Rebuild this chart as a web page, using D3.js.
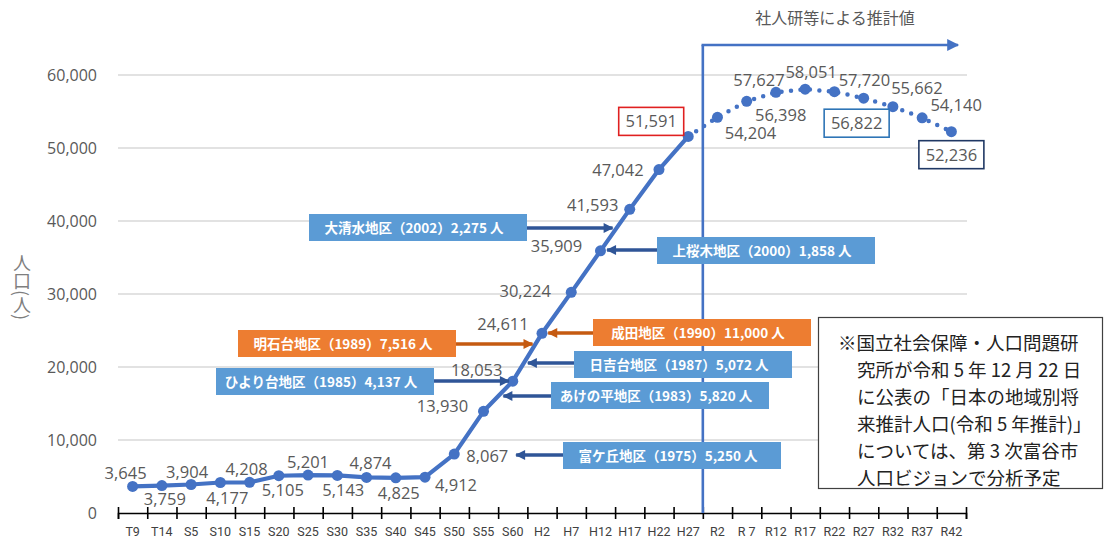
<!DOCTYPE html>
<html>
<head>
<meta charset="utf-8">
<script src="https://cdn.jsdelivr.net/npm/d3@7"></script>
<style>
  html, body { margin: 0; padding: 0; background: #fff; }
  svg { display: block; }
  .num { font-family: "Open Sans", "Noto Sans", sans-serif; }
  .jp { font-family: "Noto Sans CJK JP", "Noto Sans", sans-serif; }
</style>
</head>
<body>
<svg id="chart" width="1105" height="542"></svg>
<script>
// ---------- data ----------
const categories = ["T9","T14","S5","S10","S15","S20","S25","S30","S35","S40","S45","S50","S55","S60",
  "H2","H7","H12","H17","H22","H27","R2","R 7","R12","R17","R22","R27","R32","R37","R42"];
const actualValues = [3645,3759,3904,4177,4208,5105,5201,5143,4874,4825,4912,8067,13930,18053,
  24611,30224,35909,41593,47042,51591];
const projectedValues = [54204,56398,57627,58051,57720,56822,55662,54140,52236];
const yTicks = [0,10000,20000,30000,40000,50000,60000];
const yTitle = "人口(人)";
const projectionTitle = "社人研等による推計値";
const annotationTexts = [
  "大清水地区（2002）2,275 人",
  "上桜木地区（2000）1,858 人",
  "明石台地区（1989）7,516 人",
  "成田地区（1990）11,000 人",
  "日吉台地区（1987）5,072 人",
  "ひより台地区（1985）4,137 人",
  "あけの平地区（1983）5,820 人",
  "富ケ丘地区（1975）5,250 人"
];
const annotationKinds = ["blue","blue","orange","orange","blue","blue","blue","blue"];
const noteLines = [
  "※国立社会保障・人口問題研",
  "究所が令和 5 年 12 月 22 日",
  "に公表の「日本の地域別将",
  "来推計人口(令和 5 年推計)」",
  "については、第 3 次富谷市",
  "人口ビジョンで分析予定"
];

// ---------- layout (positions / styles only) ----------
const W = 1105, H = 542;
const plotLeft = 118, plotRight = 966, plotTop = 75, plotBottom = 513;
const lineColor = "#4472C4";
const labelColor = "#595959";
// data-label offsets (center of text relative to point)
const labelOffsets = [[-7,-13],[3,13],[-4,-13],[7,15],[-3,-13],[4,14],[0,-13],[6,15],[4,-14],[3,15],
  [31,8],[33,2],[-41,-5],[-36,-11],[-39,-9],[-46,-1],[-44,-5],[-37,-4],[-41,0],[-37,-15],
  [33,16],[34,14],[-17,-12],[6,-17],[30,-12],[-7,25],[24,-19],[34,-13],[0,23]];
const boxedLabels = {19: "#E02020", 25: "#2E75B6", 28: "#203864"};
// annotation boxes: [left, top, arrowDirection, arrowY(px), tipGap]
const annotationLayout = [
  [309,214,"right",228,-4],
  [657,237,"left",250,6],
  [238,330,"right",344,-3],
  [593,319,"left",333,6],
  [574,351,"left",363,4],
  [216,368,"right",381,-4],
  [551,382,"left",396,5],
  [563,442,"left",455,63]
];
const boxW = 218, boxH = 27;
const kindFill = {blue: "#5B9BD5", orange: "#ED7D31"};
const kindArrow = {blue: "#2F5597", orange: "#C55A11"};

// ---------- scales ----------
const svg = d3.select("#chart");
const x = d3.scaleBand().domain(categories).range([plotLeft, plotRight]).padding(0);
const xb = d3.scaleLinear().domain([0, categories.length]).range([plotLeft, plotRight]);
const y = d3.scaleLinear().domain([0, 60000]).range([plotBottom, plotTop]);
const cx = c => x(c) + x.bandwidth() / 2;

// markers
const defs = svg.append("defs");
function arrowMarker(id, color, w, h) {
  defs.append("marker").attr("id", id).attr("viewBox", "0 0 10 10")
    .attr("refX", 9).attr("refY", 5).attr("markerUnits", "userSpaceOnUse")
    .attr("markerWidth", w).attr("markerHeight", h).attr("orient", "auto")
    .append("path").attr("d", "M0,0 L10,5 L0,10 Z").attr("fill", color);
}
arrowMarker("arrBlue", kindArrow.blue, 11, 10);
arrowMarker("arrOrange", kindArrow.orange, 11, 10);
arrowMarker("arrMain", lineColor, 14, 12);

// gridlines
svg.append("g").selectAll("line").data(yTicks.filter(v => v > 0)).join("line")
  .attr("x1", plotLeft).attr("x2", plotRight + 1)
  .attr("y1", d => y(d)).attr("y2", d => y(d))
  .attr("stroke", "#D9D9D9").attr("stroke-width", 1.3);

// y axis labels
const yAxis = svg.append("g").attr("transform", `translate(${plotLeft},0)`)
  .call(d3.axisLeft(y).tickValues(yTicks).tickSize(0).tickPadding(21).tickFormat(d3.format(",")));
yAxis.select(".domain").remove();
yAxis.selectAll("text").attr("class", "num").attr("font-size", 16).attr("fill", labelColor);

// y title (vertical)
svg.append("text").attr("class", "jp")
  .attr("x", 22).attr("y", 254)
  .attr("font-size", 18).attr("fill", "#7F7F7F")
  .style("writing-mode", "vertical-rl")
  .style("glyph-orientation-vertical", "0")
  .text(yTitle);

// x axis: boundary ticks
const xTickAxis = svg.append("g").attr("transform", `translate(0,${plotBottom})`)
  .call(d3.axisBottom(xb).tickValues(d3.range(categories.length + 1)).tickSize(6).tickFormat(""));
xTickAxis.select(".domain").attr("stroke", "#000").attr("stroke-width", 1.6);
xTickAxis.selectAll(".tick line").attr("y1", -6).attr("y2", 6).attr("stroke", "#000").attr("stroke-width", 1.6);

// x axis labels
const xLab = svg.append("g").attr("transform", `translate(0,${plotBottom})`)
  .call(d3.axisBottom(x).tickSize(0).tickPadding(14));
xLab.select(".domain").remove();
xLab.selectAll("text").attr("font-family", "'Liberation Sans Narrow', 'Roboto', sans-serif")
  .attr("font-size", 12.5).attr("fill", "#404040");

// projection divider + arrow
const divX = xb(actualValues.length);
svg.append("line").attr("x1", divX).attr("x2", divX).attr("y1", 45).attr("y2", plotBottom)
  .attr("stroke", lineColor).attr("stroke-width", 2.6);
svg.append("line").attr("x1", divX - 1.3).attr("x2", 958).attr("y1", 45).attr("y2", 45)
  .attr("stroke", lineColor).attr("stroke-width", 2.6).attr("marker-end", "url(#arrMain)");
svg.append("text").attr("class", "jp").attr("x", 835).attr("y", 24)
  .attr("text-anchor", "middle").attr("font-size", 16).attr("fill", labelColor)
  .text(projectionTitle);

// series
const actualPts = actualValues.map((v, i) => ({c: categories[i], v, i}));
const projPts = projectedValues.map((v, j) => ({c: categories[actualValues.length + j], v, i: actualValues.length + j}));
const allPts = actualPts.concat(projPts);
const line = d3.line().x(d => cx(d.c)).y(d => y(d.v));

svg.append("path").datum(actualPts).attr("d", line)
  .attr("fill", "none").attr("stroke", lineColor).attr("stroke-width", 4.2)
  .attr("stroke-linejoin", "round").attr("stroke-linecap", "round");
svg.append("path").datum([actualPts[actualPts.length - 1]].concat(projPts)).attr("d", line)
  .attr("fill", "none").attr("stroke", lineColor).attr("stroke-width", 4.5)
  .attr("stroke-dasharray", "0 9.5").attr("stroke-linecap", "round");

svg.append("g").selectAll("circle").data(allPts).join("circle")
  .attr("cx", d => cx(d.c)).attr("cy", d => y(d.v)).attr("r", 5.5).attr("fill", lineColor);

// annotation boxes + arrows
function lineXAt(px) {
  // x of the actual series line at pixel y = px
  for (let k = 0; k < actualPts.length - 1; k++) {
    const a = actualPts[k], b = actualPts[k + 1];
    const ya = y(a.v), yb = y(b.v);
    if ((px <= ya && px >= yb) || (px >= ya && px <= yb)) {
      const t = (px - ya) / (yb - ya);
      return cx(a.c) + t * (cx(b.c) - cx(a.c));
    }
  }
  return cx(actualPts[0].c);
}
const ann = svg.append("g");
annotationTexts.forEach((t, k) => {
  const [bx, by, dir, ay, gap] = annotationLayout[k];
  const kind = annotationKinds[k];
  const tipX = lineXAt(ay) + gap;
  const startX = dir === "right" ? bx + boxW : bx;
  ann.append("line").attr("x1", startX).attr("x2", tipX).attr("y1", ay).attr("y2", ay)
    .attr("stroke", kindArrow[kind]).attr("stroke-width", 3.6)
    .attr("marker-end", `url(#${kind === "blue" ? "arrBlue" : "arrOrange"})`);
  ann.append("rect").attr("x", bx).attr("y", by).attr("width", boxW).attr("height", boxH)
    .attr("fill", kindFill[kind]);
  ann.append("text").attr("class", "jp").attr("x", bx + boxW / 2 - 4).attr("y", by + boxH / 2 + 5)
    .attr("text-anchor", "middle").attr("font-size", 13.5).attr("font-weight", 700)
    .attr("fill", "#fff").text(t);
});

// data labels
const lab = svg.append("g");
allPts.forEach(d => {
  const [dx, dy] = labelOffsets[d.i];
  const lx = cx(d.c) + dx, ly = y(d.v) + dy;
  if (boxedLabels[d.i]) {
    lab.append("rect").attr("x", lx - 32.5).attr("y", ly - 14).attr("width", 65).attr("height", 28)
      .attr("fill", "#fff").attr("stroke", boxedLabels[d.i]).attr("stroke-width", 1.6);
  }
  lab.append("text").attr("class", "num").attr("x", lx).attr("y", ly + 6)
    .attr("text-anchor", "middle").attr("font-size", 16.5).attr("fill", labelColor)
    .text(d3.format(",")(d.v));
});

// note box
const note = svg.append("g");
note.append("rect").attr("x", 818.5).attr("y", 317.5).attr("width", 284).attr("height", 171)
  .attr("fill", "#fff").attr("stroke", "#404040").attr("stroke-width", 1.2);
noteLines.forEach((t, k) => {
  note.append("text").attr("class", "jp")
    .attr("x", k === 0 ? 838 : 857).attr("y", 350 + k * 27)
    .attr("font-size", 18.5).attr("fill", "#222").text(t);
});
</script>
</body>
</html>
